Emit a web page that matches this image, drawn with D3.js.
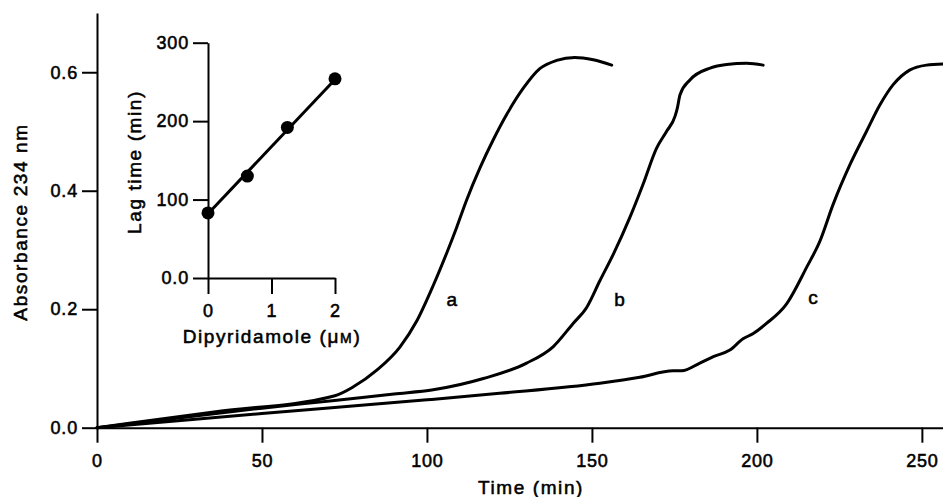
<!DOCTYPE html>
<html>
<head>
<meta charset="utf-8">
<script src="https://cdn.jsdelivr.net/npm/d3@7"></script>
<style>
  html, body { margin: 0; padding: 0; background: #fff; }
  svg { display: block; }
  text { font-family: "Liberation Sans", Arial, Helvetica, sans-serif; fill: #000; stroke: #000; stroke-width: 0.55px; }
</style>
</head>
<body>
<svg id="chart" width="943" height="497"></svg>
<script>
// ---- Main chart data: absorbance at 234 nm vs time (min) ----
const timeA = [0, 36, 72.1, 77.7, 84.8, 91.8, 96.9, 101.9, 106, 109, 112, 116.1, 120.1, 124.2, 129.2, 134.2, 139.3, 144.8, 150.4, 156];
const absA  = [0, 0.027, 0.054, 0.069, 0.097, 0.136, 0.180, 0.240, 0.295, 0.338, 0.384, 0.439, 0.486, 0.529, 0.573, 0.606, 0.620, 0.625, 0.621, 0.612];

const timeB = [0, 50, 72, 90, 101.9, 117.1, 130.2, 138.3, 144.3, 148.4, 152.4, 156.5, 161.5, 165.5, 169.6, 172.6, 175.2, 175.9, 176.7, 179.7, 185.8, 190.8, 196.9, 201.9];
const absB  = [0, 0.033, 0.046, 0.057, 0.064, 0.083, 0.109, 0.137, 0.176, 0.203, 0.248, 0.293, 0.355, 0.411, 0.472, 0.500, 0.526, 0.540, 0.562, 0.587, 0.607, 0.613, 0.615, 0.612];

const timeC = [0, 50, 100, 122, 152.4, 164.5, 174.6, 177.2, 182.7, 186.8, 191.8, 195.8, 198.9, 202.9, 209, 215.1, 219.1, 223.1, 228.2, 233.2, 237.3, 241.3, 246.4, 251.4, 256.4];
const absC  = [0, 0.024, 0.047, 0.058, 0.075, 0.085, 0.096, 0.096, 0.109, 0.120, 0.131, 0.150, 0.159, 0.176, 0.209, 0.271, 0.315, 0.377, 0.444, 0.500, 0.545, 0.579, 0.604, 0.612, 0.614]

const curveNames = ["a", "b", "c"];
const labelTime  = [107.5, 158.4, 217];   // where the curve letter sits (min)
const labelAbs   = [0.206, 0.206, 0.208];

const xTicks = [0, 50, 100, 150, 200, 250];
const yTicks = [0, 0.2, 0.4, 0.6];

// ---- Inset data: lag time vs dipyridamole ----
const dipyridamole = [0, 0.62, 1.25, 2];
const lagTime      = [83, 130, 192, 254];
const fitDipy      = [0, 2];
const fitLag       = [82, 253];
const insetXTicks  = [0, 1, 2];
const insetYTicks  = [0, 100, 200, 300];

// ---- Drawing ----
const svg = d3.select("#chart");
const TFS = 18, TLS = "0.8px";   // tick labels
const AFS = 19, ALS = "1.6px";   // axis titles

const x = d3.scaleLinear().domain([0, 256.4]).range([97, 943]);
const y = d3.scaleLinear().domain([0, 0.7]).range([427.7, 13]);

function styleAxis(g) {
  g.selectAll(".domain").attr("stroke", "#000").attr("stroke-width", 2);
  g.selectAll(".tick line").attr("stroke", "#000").attr("stroke-width", 2);
  g.selectAll(".tick text").attr("font-size", TFS).attr("letter-spacing", TLS)
    .attr("font-family", "Liberation Sans, Arial, sans-serif").attr("fill", "#000");
}

const xAxis = svg.append("g").attr("transform", "translate(0,427.7)")
  .call(d3.axisBottom(x).tickValues(xTicks).tickFormat(d3.format("d")).tickSize(15).tickSizeOuter(0).tickPadding(12));
styleAxis(xAxis);

const yAxis = svg.append("g").attr("transform", "translate(97,0)")
  .call(d3.axisLeft(y).tickValues(yTicks).tickFormat(d3.format(".1f")).tickSize(15).tickSizeOuter(0).tickPadding(4));
styleAxis(yAxis);

svg.append("text").attr("x", 531).attr("y", 494).attr("text-anchor", "middle")
  .attr("font-size", AFS).attr("letter-spacing", ALS).text("Time (min)");
svg.append("text").attr("transform", "translate(27,222) rotate(-90)").attr("text-anchor", "middle")
  .attr("font-size", AFS).attr("letter-spacing", ALS).text("Absorbance 234 nm");

const line = d3.line().x(d => x(d[0])).y(d => y(d[1])).curve(d3.curveMonotoneX);
const series = [d3.zip(timeA, absA), d3.zip(timeB, absB), d3.zip(timeC, absC)];
svg.append("g").selectAll("path").data(series).join("path")
  .attr("d", line).attr("fill", "none").attr("stroke", "#000")
  .attr("stroke-width", 3).attr("stroke-linejoin", "round").attr("stroke-linecap", "round");

svg.append("g").selectAll("text").data(curveNames).join("text")
  .attr("x", (d, i) => x(labelTime[i])).attr("y", (d, i) => y(labelAbs[i]))
  .attr("text-anchor", "middle").attr("font-size", 19).text(d => d);

// ---- Inset ----
const ix = d3.scaleLinear().domain([0, 2]).range([208, 335]);
const iy = d3.scaleLinear().domain([0, 300]).range([278, 42.7]);

const ixAxis = svg.append("g").attr("transform", "translate(0,278)")
  .call(d3.axisBottom(ix).tickValues(insetXTicks).tickFormat(d3.format("d")).tickSize(16).tickSizeOuter(0).tickPadding(10));
styleAxis(ixAxis);
const iyAxis = svg.append("g").attr("transform", "translate(208,0)")
  .call(d3.axisLeft(iy).tickValues(insetYTicks).tickFormat(d => d === 0 ? "0.0" : d3.format("d")(d)).tickSize(15).tickSizeOuter(0).tickPadding(4));
styleAxis(iyAxis);

svg.append("path").datum(d3.zip(fitDipy, fitLag))
  .attr("d", d3.line().x(d => ix(d[0])).y(d => iy(d[1])))
  .attr("stroke", "#000").attr("stroke-width", 3).attr("fill", "none");

svg.append("g").selectAll("circle").data(d3.zip(dipyridamole, lagTime)).join("circle")
  .attr("cx", d => ix(d[0])).attr("cy", d => iy(d[1])).attr("r", 6.5).attr("fill", "#000");

const dl = svg.append("text").attr("x", 272).attr("y", 343).attr("text-anchor", "middle")
  .attr("font-size", AFS).attr("letter-spacing", ALS);
dl.append("tspan").text("Dipyridamole (μ");
dl.append("tspan").attr("font-size", 14).text("M");
dl.append("tspan").text(")");

svg.append("text").attr("transform", "translate(141,162) rotate(-90)").attr("text-anchor", "middle")
  .attr("font-size", AFS).attr("letter-spacing", ALS).text("Lag time (min)");
</script>
</body>
</html>
